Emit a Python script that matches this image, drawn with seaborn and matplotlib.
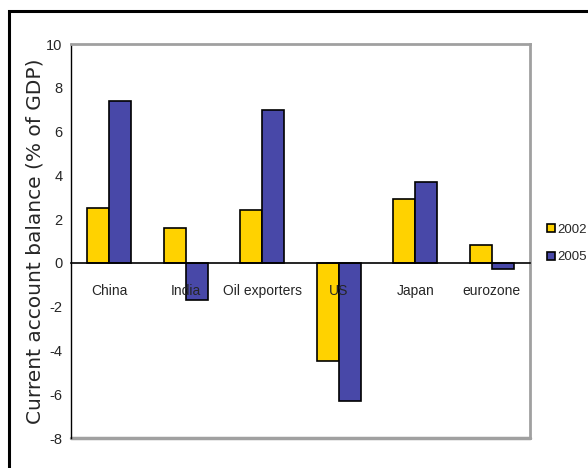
import matplotlib
matplotlib.use("Agg")
import matplotlib.pyplot as plt
import seaborn as sns
import pandas as pd
from matplotlib.patches import Rectangle

regions = ["China", "India", "Oil exporters", "US", "Japan", "eurozone"]
years = ["2002", "2005"]
values_2002 = [2.5, 1.6, 2.4, -4.5, 2.9, 0.8]
values_2005 = [7.4, -1.7, 7.0, -6.3, 3.7, -0.3]
y_ticks = [-8, -6, -4, -2, 0, 2, 4, 6, 8, 10]
colors = ["#FFD200", "#4848A8"]

df = pd.DataFrame({
    "region": regions * 2,
    "year": [years[0]] * len(regions) + [years[1]] * len(regions),
    "value": values_2002 + values_2005,
})

sns.set_style("white")
plt.rcParams["font.family"] = ["Liberation Sans", "DejaVu Sans"]

fig = plt.figure(figsize=(5.88, 4.68), dpi=100)
ax = fig.add_axes([71 / 588, 30 / 468, (530 - 71) / 588, (438 - 44) / 468])

sns.barplot(data=df, x="region", y="value", hue="year", order=regions,
            hue_order=years, palette=colors, width=0.57, ax=ax,
            edgecolor="black", linewidth=1.2, saturation=1, errorbar=None)
ax.set_axisbelow(False)

ax.set_ylim(-8, 10)
ax.set_xlim(-0.5, len(regions) - 0.5)
ax.set_yticks(y_ticks)
ax.set_yticklabels([str(t) for t in y_ticks], fontsize=10.5)
ax.tick_params(axis="y", direction="out", length=4, width=1, color="black", pad=2)

# category boundaries as major ticks on the zero line, labels as minor ticks
ax.set_xticks([i - 0.5 for i in range(len(regions) + 1)])
ax.set_xticklabels([])
ax.set_xticks(range(len(regions)), minor=True)
ax.set_xticklabels(regions, minor=True, fontsize=10.5)
ax.tick_params(axis="x", which="major", direction="out", length=4, width=1, color="black")
ax.tick_params(axis="x", which="minor", length=0, pad=15)

ax.spines["bottom"].set_position(("data", 0))
ax.spines["bottom"].set_color("black")
ax.spines["bottom"].set_linewidth(1.2)
ax.spines["left"].set_color("black")
ax.spines["left"].set_linewidth(1.0)
for s in ["top", "right"]:
    ax.spines[s].set_color("#A0A0A0")
    ax.spines[s].set_linewidth(2)
ax.axhline(-8, color="#A0A0A0", linewidth=2.5, clip_on=False, zorder=0)
ax.set_xlabel("")
ax.set_ylabel("Current account balance (% of GDP)", fontsize=14.5,
              family=["DejaVu Sans"], labelpad=1)

leg = ax.legend(loc="upper left", frameon=False,
                fontsize=9.5, handlelength=0.6, handleheight=0.6,
                handletextpad=0.2, labelspacing=1.2, borderaxespad=0,
                borderpad=0)
leg.set_bbox_to_anchor((1.037, 0.544), transform=ax.transAxes)

fig.patches.append(Rectangle((8.5 / 588, -0.1), 1.2, 1.1 - 11.5 / 468,
                             transform=fig.transFigure, fill=False,
                             edgecolor="black", linewidth=2.2))

fig.savefig("out.png", dpi=100)
